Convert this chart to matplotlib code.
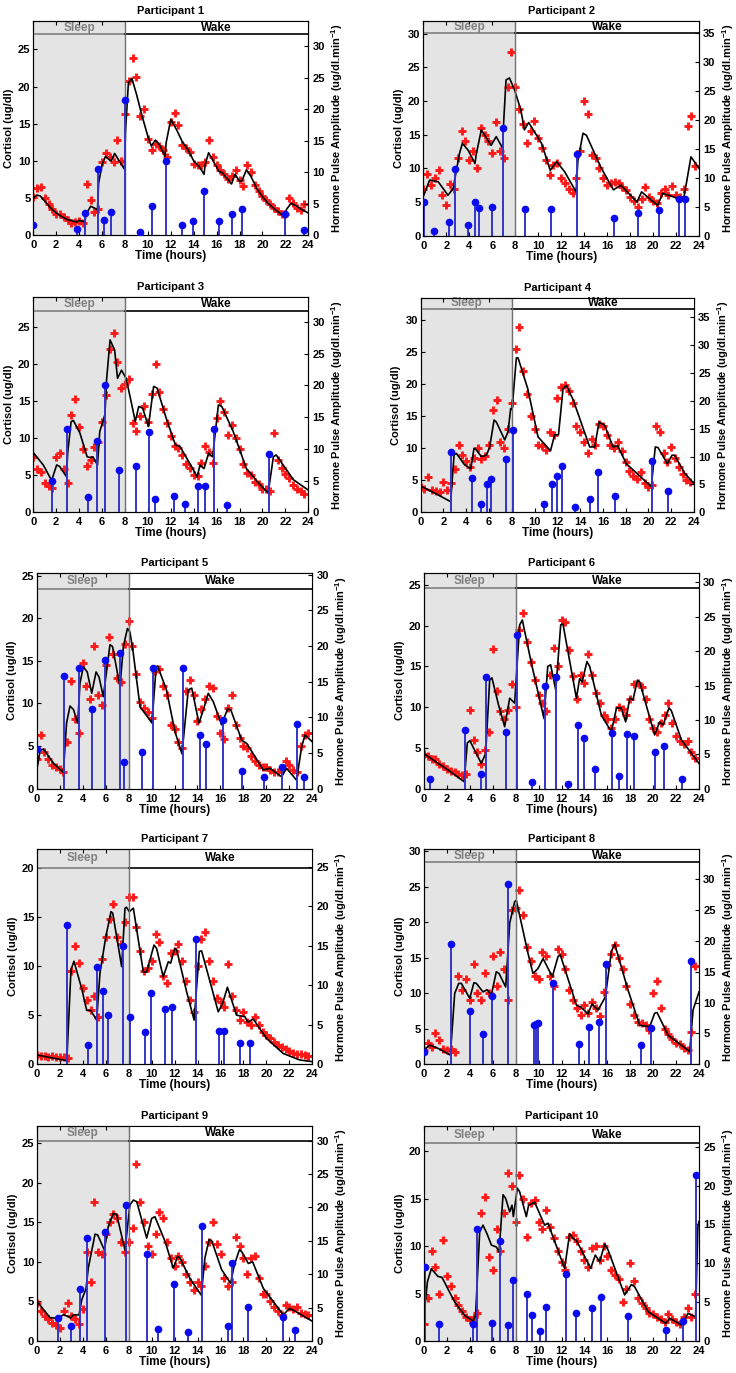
import numpy as np
import matplotlib
matplotlib.use("Agg")
import matplotlib.pyplot as plt

plt.rcParams['font.family'] = ['Liberation Sans', 'DejaVu Sans']
plt.rcParams['font.weight'] = 'bold'
plt.rcParams['mathtext.fontset'] = 'custom'
plt.rcParams['mathtext.bf'] = 'Liberation Sans:bold'
plt.rcParams['mathtext.rm'] = 'Liberation Sans:bold'

### data: sample times of the red measurements (every 20 min)
RED_T = np.arange(72) / 3.0

# model curves (time h, cortisol ug/dl)
curve1 = [(0, 5.0), (0.3, 5.4), (0.6, 5.3), (1.0, 4.6), (1.5, 3.7), (2.0, 3.0), (2.5, 2.5), (3.0, 2.1), (3.5, 1.9),
          (3.84, 1.8), (4.0, 2.0), (4.3, 1.9), (4.5, 1.7), (4.6, 2.8), (5.0, 3.9), (5.3, 3.7), (5.6, 3.4), (5.7, 7.0),
          (6.0, 9.5), (6.3, 10.6), (6.6, 10.2), (6.8, 10.0), (7.1, 11.0), (7.5, 10.0), (7.95, 8.9), (8.05, 14),
          (8.3, 20.5), (8.6, 21.1), (9.0, 19.0), (9.5, 16.0), (10.0, 13.3), (10.3, 12.0), (10.65, 12.8), (11.0, 12.2),
          (11.5, 10.6), (11.6, 12.5), (12.0, 15.6), (12.5, 14.2), (13.0, 12.6), (13.5, 11.5), (14.0, 10.0),
          (14.5, 9.2), (14.9, 8.2), (15.0, 9.5), (15.3, 11.1), (15.7, 10.0), (16.2, 8.6), (16.5, 8.4), (17.0, 7.5),
          (17.3, 6.9), (17.6, 8.2), (18.0, 7.3), (18.2, 7.3), (18.6, 8.8), (19.0, 7.9), (19.5, 6.3), (20.0, 5.2),
          (20.5, 4.3), (21.0, 3.6), (21.5, 3.0), (21.95, 2.5), (22.1, 3.5), (22.5, 4.3), (23.0, 3.9), (23.5, 3.4),
          (24, 3.0)]
curve2 = [(0, 5.8), (0.55, 8.25), (1.3, 8.0), (2.15, 6.0), (2.6, 7.0), (2.75, 8.5), (3.15, 12.2), (3.4, 13.7),
          (3.9, 12.7), (4.5, 10.7), (4.6, 12.0), (5.05, 15.7), (5.35, 14.9), (5.9, 13.4), (6.35, 14.7), (6.9, 13.0),
          (7.0, 17.0), (7.2, 23.1), (7.5, 23.4), (7.95, 21.6), (8.5, 18.6), (8.8, 15.7), (9.17, 16.8), (10.3, 13.7),
          (11.05, 9.7), (11.6, 11.0), (12.3, 9.5), (13.3, 6.5), (13.45, 11.0), (13.9, 15.2), (14.2, 14.9),
          (15.5, 10.0), (16.55, 6.8), (17.2, 7.5), (18.6, 5.0), (19.0, 6.5), (20.4, 4.5), (20.85, 6.3), (22.2, 5.5),
          (22.7, 5.8), (23.3, 11.7), (24, 10.0)]
curve3 = [(0, 8.06), (0.87, 6.4), (1.6, 4.3), (2.04, 6.4), (2.3, 6.2), (2.9, 4.8), (3.0, 8.0), (3.3, 12.25),
          (3.5, 12.4), (4.07, 10.7), (4.7, 7.5), (4.95, 7.4), (5.2, 7.5), (5.6, 6.4), (5.8, 10.9), (6.25, 13.2),
          (6.4, 18.0), (6.7, 23.3), (7.1, 21.9), (7.35, 18.1), (7.7, 19.2), (8.1, 18.1), (8.6, 14.5), (8.9, 12.25),
          (9.2, 14.3), (9.55, 14.05), (10.05, 11.6), (10.5, 17.0), (10.8, 16.8), (11.6, 12.7), (12.4, 9.1),
          (12.8, 8.9), (13.8, 6.2), (14.3, 4.8), (14.55, 6.4), (14.9, 5.9), (15.3, 8.0), (15.65, 7.5), (16.15, 14.5),
          (16.45, 14.3), (17.45, 10.9), (18.6, 5.9), (19.8, 3.7), (20.5, 2.6), (20.95, 7.5), (21.2, 7.75),
          (22.7, 4.4), (24, 3.0)]
curve4 = [(0, 4.1), (1.23, 3.0), (2.63, 1.66), (2.93, 8.95), (3.13, 9.2), (3.86, 7.4), (4.4, 6.8), (4.68, 10.0),
          (4.9, 9.7), (5.33, 8.7), (5.77, 8.9), (6.06, 10.2), (6.44, 14.4), (6.64, 14.1), (7.38, 11.3), (7.67, 12.6),
          (7.9, 16.2), (8.02, 16.0), (8.4, 24.1), (8.55, 24.1), (9.4, 19.3), (10.3, 11.8), (11.4, 9.6),
          (11.76, 12.1), (12.1, 12.1), (12.5, 19.3), (12.8, 19.8), (13.4, 17.5), (14.84, 10.2), (15.28, 10.2),
          (15.66, 14.1), (16.15, 13.6), (16.9, 10.2), (17.3, 10.4), (18.05, 7.6), (20.25, 4.0), (20.6, 10.2),
          (20.84, 10.1), (21.66, 7.6), (22.07, 8.9), (22.3, 8.9), (23.18, 6.1), (24, 4.5)]
curve5 = [(0.06, 2.6), (0.3, 4.5), (0.6, 4.65), (1.45, 3.0), (2.32, 1.9), (2.6, 7.7), (2.9, 9.7), (3.2, 9.3),
          (3.57, 7.7), (3.77, 12.4), (4.06, 14.3), (4.4, 13.7), (4.79, 11.2), (5.17, 13.7), (5.43, 13.1), (5.8, 10.8),
          (6.38, 16.9), (6.6, 16.7), (7.25, 12.0), (7.55, 16.7), (7.9, 18.8), (8.12, 18.4), (8.41, 15.9), (9.0, 9.6),
          (9.34, 9.0), (10.04, 7.7), (10.4, 14.3), (10.53, 14.4), (11.3, 11.6), (12.04, 6.7), (12.65, 4.1),
          (13.2, 11.6), (13.5, 11.8), (14.13, 7.7), (14.5, 9.2), (14.94, 11.2), (15.38, 10.2), (16.1, 7.5),
          (16.63, 9.4), (16.92, 9.2), (17.85, 5.7), (18.3, 5.3), (19.73, 2.2), (20.3, 2.4), (21.33, 1.4),
          (21.76, 2.4), (22.63, 1.0), (23.07, 4.9), (23.36, 6.3), (24, 5.5)]
curve6 = [(0, 4.3), (0.93, 3.4), (2.1, 2.3), (3.5, 0.86), (3.78, 5.6), (4.0, 5.9), (5.0, 3.1), (5.38, 4.3),
          (5.73, 13.3), (5.93, 13.6), (6.5, 10.3), (7.04, 7.6), (7.48, 11.1), (7.91, 10.5), (8.35, 20.1),
          (8.58, 20.7), (9.37, 15.4), (10.47, 8.6), (10.8, 15.0), (11.05, 15.2), (11.5, 12.1), (11.93, 20.1),
          (12.13, 20.2), (13.3, 11.1), (13.58, 13.5), (13.8, 13.1), (14.22, 15.6), (14.46, 15.0), (15.48, 9.0),
          (16.35, 7.0), (16.8, 9.9), (17.2, 9.9), (17.6, 8.2), (17.95, 11.1), (18.24, 10.9), (18.62, 13.3),
          (18.82, 13.1), (20.13, 6.6), (20.57, 8.2), (20.86, 7.8), (21.38, 9.9), (21.58, 9.6), (22.46, 6.0),
          (24, 3.1)]
curve7 = [(0, 0.95), (2.6, 0.37), (2.96, 9.6), (3.22, 10.5), (3.9, 7.7), (4.33, 5.5), (4.68, 5.5), (5.2, 4.5),
          (5.49, 9.3), (6.0, 13.0), (6.45, 15.55), (6.6, 15.4), (7.38, 9.95), (7.67, 15.9), (7.8, 16.0),
          (8.05, 15.55), (8.4, 15.9), (9.27, 9.4), (9.56, 9.4), (10.2, 12.15), (10.43, 11.8), (11.0, 8.9),
          (11.45, 10.45), (11.65, 10.3), (12.0, 11.8), (12.17, 11.7), (13.04, 7.4), (13.7, 4.5), (14.15, 11.5),
          (14.35, 11.55), (15.8, 5.35), (16.18, 6.2), (16.6, 7.85), (17.4, 5.0), (18.13, 4.85), (18.36, 4.3),
          (18.86, 4.6), (20.0, 2.65), (21.47, 1.1), (22.9, 0.44), (24, 0.27)]
curve8 = [(0, 2.0), (0.5, 2.7), (1.22, 2.25), (2.3, 1.3), (2.68, 10.0), (3.03, 11.4), (3.26, 11.4), (3.99, 9.3),
          (4.36, 11.5), (4.57, 11.4), (5.15, 10.2), (5.5, 10.5), (5.88, 9.8), (6.31, 13.05), (6.55, 12.8),
          (7.13, 10.9), (7.48, 19.9), (7.91, 22.9), (8.06, 23.1), (9.08, 15.6), (9.51, 12.8), (9.95, 13.5),
          (10.39, 14.9), (11.2, 12.35), (11.7, 15.2), (11.9, 15.4), (13.3, 8.36), (13.73, 8.0), (14.31, 7.1),
          (14.66, 8.5), (15.19, 7.65), (15.83, 9.5), (16.35, 15.9), (16.64, 16.95), (17.8, 10.5), (18.82, 5.5),
          (19.7, 5.3), (20.13, 7.2), (20.34, 7.3), (21.3, 4.1), (23.19, 1.8), (23.48, 7.65), (24, 10.2)]
curve9 = [(0, 5.0), (1.13, 2.95), (1.8, 2.87), (2.3, 3.3), (2.73, 3.1), (2.9, 2.9), (3.17, 3.3), (3.66, 3.3),
          (3.9, 5.2), (4.27, 6.6), (4.47, 9.2), (5.06, 13.5), (5.29, 13.4), (5.87, 11.5), (6.22, 14.5), (6.65, 16.1),
          (6.94, 16.0), (7.67, 11.5), (8.1, 17.2), (8.4, 17.8), (8.7, 17.6), (9.56, 13.0), (10.0, 15.5),
          (10.28, 15.7), (11.16, 12.6), (11.88, 9.2), (12.26, 10.7), (12.46, 10.5), (13.33, 7.9), (14.32, 5.8),
          (14.64, 10.5), (15.0, 12.8), (15.22, 12.7), (16.1, 9.0), (16.88, 7.3), (17.2, 9.6), (17.64, 11.5),
          (17.84, 11.3), (18.42, 9.8), (18.8, 10.0), (19.73, 6.65), (21.47, 3.3), (22.0, 4.1), (22.34, 3.9),
          (24, 2.5)]
curve10 = [(0.06, 3.4), (0.3, 6.25), (0.64, 7.6), (1.22, 6.8), (1.57, 6.7), (2.68, 4.1), (3.55, 2.7), (4.28, 2.1),
           (4.5, 2.7), (4.86, 11.5), (5.15, 12.2), (5.53, 11.2), (5.88, 10.1), (6.31, 9.9), (6.55, 9.4), (6.9, 15.4),
           (7.13, 15.0), (7.48, 13.6), (7.68, 14.3), (7.8, 13.1), (8.15, 16.1), (8.35, 15.7), (8.93, 13.1),
           (9.13, 14.3), (9.66, 14.6), (10.53, 12.2), (10.82, 12.4), (12.27, 7.65), (12.71, 11.3), (13.0, 10.8),
           (13.3, 10.6), (14.55, 7.65), (14.95, 9.05), (15.33, 8.35), (15.77, 10.2), (16.06, 9.6), (17.51, 4.85),
           (18.1, 5.95), (18.39, 5.7), (19.55, 3.1), (21.1, 1.86), (21.44, 2.4), (22.46, 1.7), (23.04, 2.9),
           (23.7, 2.55), (23.9, 12.0), (24, 12.6)]

# measured cortisol (ug/dl) at RED_T
red1 = [5.2, 6.3, 6.5, 5.0, 4.2, 3.5, 2.9, 2.8, 2.4, 2.0, 1.7, 1.8,
        1.9, 1.6, 6.9, 4.8, 3.1, 3.5, 9.8, 11.0, 10.5, 9.8, 12.8, 10.0,
        16.3, 20.8, 23.9, 21.3, 16.0, 17.0, 13.0, 11.5, 12.3, 12.0, 11.5, 10.5,
        15.2, 16.5, 14.8, 12.2, 11.8, 11.2, 9.6, 9.5, 9.4, 9.8, 12.8, 10.5,
        9.5, 8.8, 8.3, 7.6, 8.0, 8.8, 7.5, 6.6, 9.5, 8.5, 6.8, 6.0,
        5.3, 4.8, 4.2, 3.7, 3.3, 2.9, 2.8, 5.0, 4.4, 3.7, 3.4, 4.2]
red2 = [7.0, 9.2, 7.5, 8.5, 9.8, 6.0, 4.5, 7.7, 7.0, 11.5, 15.5, 14.0,
        11.2, 12.5, 10.0, 16.0, 15.0, 14.0, 12.3, 16.8, 12.5, 11.5, 22.0, 27.2,
        22.0, 18.8, 16.5, 13.7, 15.5, 17.0, 14.5, 13.0, 11.2, 9.0, 10.5, 10.8,
        8.5, 7.8, 7.0, 6.3, 8.5, 12.5, 20.0, 18.0, 12.0, 11.5, 10.0, 8.5,
        7.5, 7.8, 8.0, 7.8, 7.2, 6.8, 5.8, 5.2, 4.3, 5.5, 7.2, 5.8,
        5.2, 4.8, 6.3, 7.0, 6.0, 7.3, 6.0, 5.8, 7.0, 16.3, 17.8, 10.3]
red3 = [7.5, 5.8, 5.5, 3.9, 3.5, 3.3, 7.5, 8.0, 5.8, 4.0, 13.2, 15.3,
        11.5, 8.5, 6.2, 7.0, 8.8, 9.5, 12.2, 15.8, 22.0, 24.2, 20.3, 16.8,
        17.3, 18.0, 12.0, 11.0, 13.0, 14.3, 12.2, 16.0, 20.0, 16.3, 14.0, 12.0,
        10.3, 9.0, 8.7, 7.8, 6.5, 6.0, 5.0, 4.9, 6.7, 9.0, 8.2, 6.7,
        12.8, 15.0, 13.5, 10.5, 11.8, 10.0, 8.5, 6.5, 5.3, 5.0, 4.1, 3.8,
        3.2, 3.1, 2.9, 10.7, 7.0, 6.0, 5.2, 4.6, 3.7, 3.2, 2.9, 2.5]
red4 = [4.0, 3.6, 5.5, 3.5, 3.3, 3.2, 4.8, 3.5, 4.5, 6.8, 10.5, 9.0,
        8.0, 7.0, 8.5, 10.0, 8.3, 8.8, 10.5, 16.0, 17.5, 11.0, 10.0, 13.0,
        17.0, 25.5, 29.0, 22.0, 18.5, 15.0, 13.0, 10.5, 10.3, 9.8, 12.5, 12.0,
        17.8, 19.5, 19.8, 19.0, 17.0, 13.5, 12.5, 11.0, 9.3, 11.5, 10.5, 13.8,
        13.5, 12.0, 10.5, 10.0, 11.0, 9.5, 7.8, 6.5, 5.7, 5.2, 6.3, 4.5,
        4.0, 4.2, 13.5, 12.5, 9.3, 7.8, 10.2, 8.5, 7.0, 6.0, 5.0, 4.8]
red5 = [3.5, 6.3, 4.3, 3.5, 2.8, 2.5, 2.3, 2.0, 5.5, 12.6, 8.2, 6.5,
        14.8, 12.0, 10.5, 16.8, 11.0, 9.8, 14.5, 17.8, 15.8, 13.0, 12.5, 17.0,
        19.7, 16.8, 13.5, 10.2, 9.5, 9.0, 8.3, 13.8, 14.0, 12.0, 11.0, 7.5,
        7.0, 5.5, 4.8, 11.5, 12.8, 11.0, 8.0, 9.3, 10.5, 12.0, 11.8, 8.5,
        6.5, 5.8, 9.5, 11.0, 7.5, 6.0, 5.0, 4.8, 3.8, 3.2, 2.8, 2.5,
        2.6, 2.2, 2.0, 2.0, 2.3, 3.2, 2.8, 2.2, 2.0, 5.0, 6.3, 6.5]
red6 = [4.2, 4.0, 3.6, 3.7, 3.0, 2.8, 2.4, 2.2, 2.0, 1.8, 1.7, 1.8,
        9.7, 6.0, 4.5, 3.0, 4.8, 7.0, 17.2, 12.0, 9.5, 8.5, 9.7, 12.8,
        10.0, 19.5, 21.5, 18.0, 15.5, 13.3, 11.5, 10.5, 9.5, 14.0, 17.3, 15.0,
        20.7, 20.5, 17.0, 13.8, 11.0, 14.0, 13.0, 16.5, 14.0, 11.8, 10.5, 9.0,
        8.5, 7.5, 8.5, 10.0, 9.8, 9.0, 11.0, 12.8, 13.0, 12.5, 11.0, 8.5,
        7.5, 7.0, 8.0, 9.0, 10.5, 8.0, 6.5, 5.8, 5.5, 5.8, 4.5, 3.8]
red7 = [0.9, 0.8, 0.85, 0.75, 0.8, 0.7, 0.75, 0.7, 0.6, 9.5, 12.0, 10.3,
        7.8, 6.5, 5.5, 7.0, 4.8, 10.7, 13.0, 14.8, 16.3, 13.0, 12.3, 14.5,
        17.0, 17.0, 14.0, 11.5, 9.5, 9.8, 10.5, 13.3, 12.5, 9.0, 8.3, 11.3,
        11.5, 12.3, 10.5, 8.5, 6.5, 5.3, 10.0, 12.8, 13.5, 10.5, 8.5, 6.8,
        6.3, 5.8, 10.2, 7.0, 5.5, 4.5, 5.3, 4.3, 4.0, 4.8, 4.0, 3.3,
        3.0, 2.7, 2.3, 2.0, 1.8, 1.6, 1.4, 1.2, 1.0, 1.0, 0.9, 0.8]
red8 = [2.0, 3.0, 2.5, 4.4, 3.4, 2.2, 2.0, 2.2, 1.8, 12.5, 10.5, 12.0,
        9.0, 14.2, 10.0, 9.0, 12.8, 10.0, 15.2, 11.0, 15.8, 13.5, 9.0, 21.8,
        22.0, 24.5, 21.0, 16.5, 14.5, 12.5, 12.0, 15.8, 15.3, 12.5, 11.0, 16.3,
        15.5, 13.5, 10.5, 9.0, 8.0, 7.0, 8.3, 7.3, 8.8, 8.0, 6.8, 10.2,
        14.0, 15.5, 16.8, 15.0, 13.5, 11.0, 8.5, 7.0, 6.0, 5.8, 5.5, 4.8,
        10.0, 11.8, 8.0, 5.0, 4.3, 3.5, 3.0, 2.8, 2.3, 2.0, 4.5, 13.8]
red9 = [4.8, 3.8, 3.2, 2.8, 2.3, 2.0, 1.7, 3.8, 4.8, 3.2, 2.8, 2.2,
        4.0, 11.3, 7.5, 17.5, 11.2, 11.0, 13.5, 15.0, 16.0, 15.5, 12.5, 11.2,
        12.5, 14.3, 22.4, 17.5, 15.0, 12.0, 11.0, 13.5, 16.3, 15.5, 12.5, 10.5,
        9.5, 10.8, 10.0, 8.5, 7.5, 6.5, 7.5, 7.0, 9.5, 12.5, 15.0, 12.3,
        11.0, 8.0, 7.0, 7.5, 13.2, 12.0, 10.5, 8.5, 10.5, 10.8, 8.0, 6.0,
        6.0, 5.0, 4.3, 3.8, 3.3, 4.5, 4.3, 4.0, 4.3, 3.6, 3.4, 3.3]
red10 = [1.8, 4.5, 9.5, 7.8, 5.0, 10.6, 6.8, 5.8, 4.5, 3.8, 3.2, 2.5,
         2.2, 2.5, 3.0, 13.5, 15.2, 8.8, 7.5, 11.8, 9.5, 13.5, 17.7, 16.3,
         12.5, 17.5, 15.0, 11.0, 14.5, 14.8, 12.5, 11.8, 13.8, 12.0, 10.8, 9.5,
         8.3, 7.5, 11.0, 11.2, 10.5, 9.5, 8.5, 7.8, 9.8, 10.0, 8.5, 10.0,
         9.0, 7.5, 7.0, 6.5, 4.1, 5.5, 8.2, 6.3, 4.5, 4.0, 3.5, 3.0,
         2.8, 2.5, 2.3, 2.0, 2.8, 2.3, 2.0, 1.8, 2.5, 3.5, 2.5, 5.0]

# estimated pulses (time h, amplitude ug/dl.min-1)
pulse1 = [(0, 1.6), (3.84, 0.95), (4.5, 3.5), (5.67, 10.5), (6.2, 2.5), (6.8, 3.7), (8.0, 21.5), (9.34, 0.6),
          (10.4, 4.7), (11.58, 11.8), (13.0, 1.6), (13.96, 2.3), (14.92, 7.0), (16.23, 2.3), (17.34, 3.4),
          (18.18, 4.1), (21.96, 3.4), (23.62, 0.85)]
pulse2 = [(0.06, 5.8), (0.9, 0.75), (2.2, 2.4), (2.73, 11.6), (3.86, 1.9), (4.53, 5.8), (4.88, 4.85), (5.95, 5.0),
          (6.94, 18.7), (8.88, 4.6), (11.08, 4.7), (13.35, 14.2), (16.63, 3.05), (18.66, 4.0), (20.52, 4.45),
          (22.26, 6.3), (22.78, 6.3)]
pulse3 = [(1.6, 5.0), (2.97, 13.2), (4.8, 2.4), (5.6, 11.3), (6.28, 20.1), (7.48, 6.7), (8.99, 7.3), (10.07, 12.6),
          (10.65, 2.15), (12.25, 2.5), (13.2, 1.3), (14.34, 4.2), (14.98, 4.2), (15.77, 13.2), (16.87, 1.15),
          (20.6, 9.2)]
pulse4 = [(2.69, 10.8), (4.48, 6.2), (5.33, 1.45), (5.82, 5.0), (6.18, 6.0), (7.5, 9.6), (8.08, 14.7),
          (10.83, 1.45), (11.5, 5.0), (12.0, 6.5), (12.4, 8.3), (13.58, 0.95), (14.9, 2.3), (15.54, 7.3),
          (17.03, 3.0), (20.28, 9.2), (21.74, 3.8)]
pulse5 = [(0.06, 5.5), (2.35, 15.8), (3.66, 17.0), (4.79, 11.2), (5.95, 18.1), (7.28, 19.0), (7.63, 3.7),
          (9.2, 5.2), (10.13, 17.0), (12.71, 16.9), (14.25, 7.6), (14.71, 6.3), (16.22, 9.7), (17.88, 2.5),
          (19.82, 1.7), (21.36, 3.0), (22.7, 9.1), (23.27, 1.7)]
pulse6 = [(0.5, 1.45), (3.58, 8.5), (4.97, 2.2), (5.44, 16.3), (7.13, 8.2), (8.1, 22.4), (9.4, 0.97),
          (10.53, 14.9), (11.55, 16.3), (12.54, 0.68), (13.4, 9.3), (13.95, 7.3), (14.9, 2.9), (16.44, 8.1),
          (17.0, 1.9), (17.7, 8.0), (18.33, 7.7), (20.19, 5.3), (20.97, 6.25), (22.5, 1.4)]
pulse7 = [(2.64, 17.6), (4.45, 2.4), (5.23, 12.3), (5.72, 9.3), (6.16, 6.2), (7.47, 15.0), (8.1, 6.0),
          (9.41, 4.05), (9.94, 9.0), (11.13, 7.0), (11.77, 7.2), (13.83, 15.8), (15.89, 4.2), (16.33, 4.2),
          (17.69, 2.65), (18.57, 2.65)]
pulse8 = [(0, 1.95), (2.36, 19.5), (3.99, 8.7), (5.15, 4.85), (5.96, 11.1), (7.3, 29.2), (9.57, 6.3), (9.77, 6.5),
          (9.95, 6.75), (11.29, 13.2), (13.5, 3.3), (14.37, 6.0), (15.3, 6.85), (15.88, 16.2), (18.97, 3.2),
          (19.78, 5.9), (23.33, 16.8)]
pulse9 = [(1.86, 3.45), (2.93, 2.25), (3.72, 7.75), (4.36, 15.4), (5.96, 16.3), (7.79, 20.3), (9.59, 13.0),
          (10.55, 1.75), (11.97, 8.55), (13.19, 1.3), (14.38, 17.3), (16.62, 2.25), (17.02, 11.7), (18.42, 5.1),
          (21.47, 3.65), (22.46, 1.6)]
pulse10 = [(0.06, 9.55), (1.28, 2.2), (4.3, 2.2), (4.65, 14.4), (5.93, 2.3), (6.63, 12.9), (7.3, 2.0), (7.8, 7.85),
           (8.96, 6.0), (9.4, 3.4), (10.1, 1.25), (10.62, 4.4), (12.42, 8.6), (13.3, 3.6), (14.63, 4.3),
           (15.45, 5.6), (17.77, 3.2), (21.15, 1.37), (22.57, 2.6), (23.77, 21.4)]

CURVES = [curve1, curve2, curve3, curve4, curve5, curve6, curve7, curve8, curve9, curve10]
REDS = [red1, red2, red3, red4, red5, red6, red7, red8, red9, red10]
PULSES = [pulse1, pulse2, pulse3, pulse4, pulse5, pulse6, pulse7, pulse8, pulse9, pulse10]
TITLES = ['Participant %d' % (i + 1) for i in range(10)]

# axis ranges: (left top, left tick max, right top, right tick max)
RANGES = [(28.85, 25, 34.0, 30), (31.9, 30, 37.2, 35), (29.05, 25, 33.9, 30), (33.5, 30, 38.5, 35),
          (25.35, 25, 30.3, 30), (26.5, 25, 31.4, 30), (21.9, 20, 27.2, 25), (30.3, 30, 34.8, 30),
          (27.2, 25, 32.25, 30), (22.67, 20, 27.7, 25)]

### layout (pixels: left, right, top, bottom) and sleep/wake band height fraction
W, H = 736, 1373
BOXES = [(33.3, 308.3, 20.7, 235.3), (423.3, 699, 20.7, 235.7),
         (33.3, 308.3, 297.3, 512.3), (420.7, 694, 297.7, 512.3),
         (36.7, 312.3, 572.7, 788.7), (424, 699, 572.7, 788.7),
         (37, 312.3, 849.3, 1064.3), (424, 699, 849.3, 1064.3),
         (37, 312.3, 1125.7, 1341), (424, 699, 1125.7, 1341)]
BAND = [0.064, 0.059, 0.064, 0.053, 0.076, 0.073, 0.085, 0.06, 0.07, 0.082]

fig = plt.figure(figsize=(W / 100, H / 100), dpi=100)
FS = 8

for i in range(10):
    l, r, t, b = BOXES[i]
    ax = fig.add_axes([l / W, 1 - b / H, (r - l) / W, (b - t) / H])
    ax2 = ax.twinx()
    ltop, lmax, rtop, rmax = RANGES[i]
    frac = BAND[i]

    # sleep shading and sleep/wake header band
    ax.axvspan(0, 8, color='#e4e4e4', zorder=0, lw=0)
    trans = ax.get_xaxis_transform()
    ax.fill_between([8, 24], 1 - frac, 1, color='white', transform=trans, zorder=5, lw=0)
    ax.plot([0, 8], [1 - frac, 1 - frac], color='#808080', lw=1.2, transform=trans, zorder=6)
    ax.plot([8, 24], [1 - frac, 1 - frac], color='black', lw=1.2, transform=trans, zorder=6)
    ax.plot([8, 8], [0, 1], color='#707070', lw=1.0, transform=trans, zorder=6)
    ax.text(4, 1 - frac / 2, 'Sleep', color='#808080', fontsize=FS + 0.5, fontweight='bold',
            ha='center', va='center', transform=trans, zorder=7)
    ax.text(16, 1 - frac / 2, 'Wake', color='black', fontsize=FS + 0.5, fontweight='bold',
            ha='center', va='center', transform=trans, zorder=7)

    # data
    ax.plot(RED_T, REDS[i], '+', color='#ff1a1a', ms=5.5, mew=2.1, zorder=2)
    ct, cv = zip(*CURVES[i])
    ax.plot(ct, cv, color='black', lw=1.2, zorder=3)
    pt, pa = zip(*PULSES[i])
    ax2.vlines(pt, 0, pa, color='#3535c8', lw=1.4, zorder=2)
    ax2.plot(pt, pa, 'o', color='#0a0aee', ms=4.5, zorder=3)

    ax.set_xlim(0, 24)
    ax.set_ylim(0, ltop)
    ax2.set_ylim(0, rtop)
    ax.set_xticks(range(0, 25, 2))
    ax.set_yticks(range(0, lmax + 1, 5))
    ax2.set_yticks(range(0, rmax + 1, 5))
    ax.tick_params(axis='x', direction='in', length=3, labelsize=FS, top=True, pad=3.5)
    ax.tick_params(axis='y', direction='in', length=3, labelsize=FS, pad=2)
    ax2.tick_params(direction='in', length=3, labelsize=FS, pad=3)
    for lab in ax.get_xticklabels() + ax.get_yticklabels() + ax2.get_yticklabels():
        lab.set_fontweight('bold')

    ax.set_xlabel('Time (hours)', fontsize=FS + 0.5, fontweight='bold', labelpad=0)
    ax.set_ylabel('Cortisol (ug/dl)', fontsize=FS, fontweight='bold', labelpad=3)
    ax2.set_ylabel(r'Hormone Pulse Amplitude (ug/dl.min$^{\mathbf{-1}}$)', fontsize=FS,
                   fontweight='bold', labelpad=3)
    ax.set_title(TITLES[i], fontsize=FS, fontweight='bold', pad=5)

fig.savefig('out.png', dpi=100)
